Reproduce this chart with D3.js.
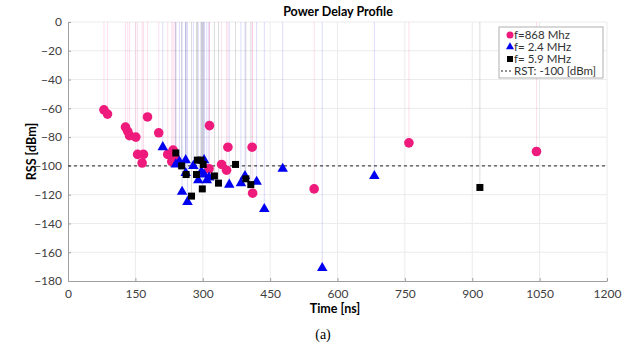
<!DOCTYPE html>
<html>
<head>
<meta charset="utf-8">
<script src="https://cdn.jsdelivr.net/npm/d3@7"></script>
<style>
  body { margin: 0; background: #fff; }
  svg text { font-family: Lato, "Open Sans", sans-serif; }
</style>
</head>
<body>
<div id="target"></div>
<script>
// values: [time ns, RSS dBm]
const f868 = [
  [80, -61], [88, -64], [128, -73], [133, -76], [137, -79], [151, -80],
  [155, -92], [168, -92], [165, -98], [177, -66], [202, -77], [222, -92],
  [231, -97], [234, -89], [238, -95], [315, -72], [314, -102], [342, -99],
  [353, -103], [356, -87], [410, -87], [411, -119], [548, -116],
  [759, -84], [1043, -90]
];
const f24 = [
  [211, -87], [240, -99], [248, -97], [254, -118], [262, -96], [262, -105],
  [266, -125], [279, -100], [290, -110], [297, -104], [303, -96], [303, -106],
  [309, -110], [314, -108], [359, -113], [385, -112], [394, -107],
  [420, -111], [437, -130], [478, -102], [566, -171], [682, -107]
];
const f59 = [
  [240, -91], [253, -100], [263, -106], [275, -121], [286, -106], [288, -96],
  [296, -96], [301, -99], [299, -116], [326, -107], [335, -112], [373, -99],
  [396, -109], [407, -113], [917, -115]
];
const threshold = -100;
const xTicks = [0, 150, 300, 450, 600, 750, 900, 1050, 1200];
const yTicks = [0, -20, -40, -60, -80, -100, -120, -140, -160, -180];
const legendLabels = ["f=868 Mhz", "f= 2.4 MHz", "f= 5.9 MHz", "RST: -100 [dBm]"];

const width = 636,
  height = 350,
  margin = {top: 22, right: 29, bottom: 69, left: 68};

const pink = "#ee1a7c", blue = "#0000f0", black = "#000";

const x = d3.scaleLinear().domain([0, 1200]).range([margin.left, width - margin.right]);
const y = d3.scaleLinear().domain([-180, 0]).range([height - margin.bottom, margin.top]);

const svg = d3.select("#target").append("svg")
  .attr("width", width)
  .attr("height", height);

// grid
svg.append("g")
  .selectAll("line")
  .data(xTicks.slice(1))
  .join("line")
  .attr("x1", d => x(d)).attr("x2", d => x(d))
  .attr("y1", y(0)).attr("y2", y(-180))
  .attr("stroke", "#ebebeb");
svg.append("g")
  .selectAll("line")
  .data(yTicks.slice(0, -1))
  .join("line")
  .attr("x1", x(0)).attr("x2", x(1200))
  .attr("y1", d => y(d)).attr("y2", d => y(d))
  .attr("stroke", "#ebebeb");

// axes
const xAxis = svg.append("g")
  .attr("transform", `translate(0,${y(-180)})`)
  .call(d3.axisBottom(x).tickValues(xTicks).tickFormat(d3.format("d"))
    .tickSizeInner(-3).tickSizeOuter(0).tickPadding(8));
const yAxis = svg.append("g")
  .attr("transform", `translate(${x(0)},0)`)
  .call(d3.axisLeft(y).tickValues(yTicks).tickFormat(d3.format("d"))
    .tickSizeInner(-3).tickSizeOuter(0).tickPadding(6));
[xAxis, yAxis].forEach(a => {
  a.select(".domain").attr("stroke", "#a0a0a0");
  a.selectAll(".tick line").attr("stroke", "#a0a0a0");
  a.selectAll(".tick text").attr("fill", "#404040").style("font-size", "12px");
});

// stems
const series = [
  {data: f868, color: pink},
  {data: f24, color: blue},
  {data: f59, color: black}
];
series.forEach(s => {
  svg.append("g")
    .selectAll("line")
    .data(s.data)
    .join("line")
    .attr("x1", d => x(d[0])).attr("x2", d => x(d[0]))
    .attr("y1", y(0)).attr("y2", d => y(d[1]))
    .attr("stroke", s.color)
    .attr("stroke-opacity", 0.14);
});

// threshold line
svg.append("line")
  .attr("x1", x(0)).attr("x2", x(1200))
  .attr("y1", y(threshold)).attr("y2", y(threshold))
  .attr("stroke", "#222")
  .attr("stroke-dasharray", "3,3");

// markers
svg.append("g")
  .selectAll("circle")
  .data(f868)
  .join("circle")
  .attr("cx", d => x(d[0])).attr("cy", d => y(d[1]))
  .attr("r", 4.8)
  .attr("fill", pink);

const tri = d3.symbol().type(d3.symbolTriangle).size(48);
svg.append("g")
  .selectAll("path")
  .data(f24)
  .join("path")
  .attr("d", tri)
  .attr("transform", d => `translate(${x(d[0])},${y(d[1])})`)
  .attr("fill", blue);

svg.append("g")
  .selectAll("rect")
  .data(f59)
  .join("rect")
  .attr("x", d => x(d[0]) - 3.5).attr("y", d => y(d[1]) - 3.5)
  .attr("width", 7).attr("height", 7)
  .attr("fill", black);

// legend
const lg = svg.append("g").attr("transform", "translate(499,27)");
lg.append("rect")
  .attr("width", 104).attr("height", 51)
  .attr("fill", "#fff").attr("stroke", "#b0b0b0");
legendLabels.forEach((t, i) => {
  const cy = 8 + i * 12;
  if (i === 0) lg.append("circle").attr("cx", 11).attr("cy", cy).attr("r", 3.5).attr("fill", pink);
  if (i === 1) lg.append("path").attr("d", d3.symbol().type(d3.symbolTriangle).size(28))
    .attr("transform", `translate(11,${cy})`).attr("fill", blue);
  if (i === 2) lg.append("rect").attr("x", 8).attr("y", cy - 3).attr("width", 6).attr("height", 6).attr("fill", black);
  if (i === 3) lg.append("line").attr("x1", 2).attr("x2", 14).attr("y1", cy).attr("y2", cy)
    .attr("stroke", "#222").attr("stroke-dasharray", "2,2");
  lg.append("text")
    .attr("x", 15).attr("y", cy + 4)
    .attr("fill", "#333")
    .style("font-size", "11.5px")
    .text(t);
});

// titles
svg.append("text")
  .attr("x", 338).attr("y", 16)
  .attr("text-anchor", "middle")
  .style("font-size", "12.5px").style("font-weight", "bold")
  .text("Power Delay Profile");
svg.append("text")
  .attr("transform", `translate(36,${(y(0) + y(-180)) / 2}) rotate(-90)`)
  .attr("text-anchor", "middle")
  .style("font-size", "12.5px").style("font-weight", "bold")
  .text("RSS [dBm]");
svg.append("text")
  .attr("x", 335).attr("y", 313)
  .attr("text-anchor", "middle")
  .style("font-size", "12.5px").style("font-weight", "bold")
  .text("Time [ns]");
svg.append("text")
  .attr("x", 323).attr("y", 339)
  .attr("text-anchor", "middle")
  .style("font-family", "'Liberation Serif', 'DejaVu Serif', serif")
  .style("font-size", "14px")
  .text("(a)");
</script>
</body>
</html>
